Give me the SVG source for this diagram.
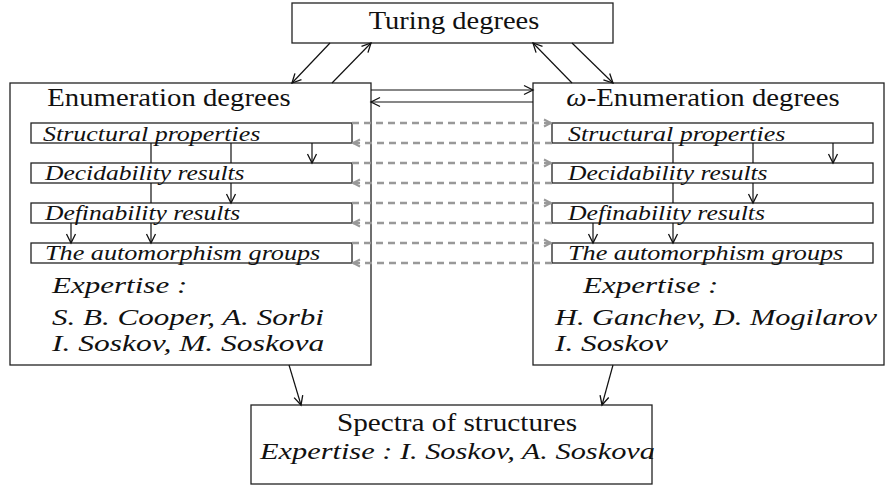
<svg xmlns="http://www.w3.org/2000/svg" width="887" height="486" viewBox="0 0 887 486">
<style>
.box{fill:#fff;stroke:#222;stroke-width:1.3}
.ibox{fill:none;stroke:#222;stroke-width:1.3}
.c{fill:none;stroke:#111;stroke-width:1.2}
.d{fill:none;stroke:#999;stroke-width:2.6;stroke-dasharray:7 5}
</style>
<defs>
<marker id="ah" markerUnits="userSpaceOnUse" markerWidth="12" markerHeight="12" viewBox="-10 -6 12 12" refX="0" refY="0" orient="auto">
<path d="M-9,-4.5 L0,0 L-9,4.5" fill="none" stroke="#111" stroke-width="1.3"/>
</marker>
<marker id="gh" markerUnits="userSpaceOnUse" markerWidth="12" markerHeight="12" viewBox="-10 -6 12 12" refX="0" refY="0" orient="auto">
<path d="M-7,-3.5 L0,0 L-7,3.5" fill="none" stroke="#999" stroke-width="2"/>
</marker>
</defs>

<g font-family="Liberation Serif, DejaVu Serif, serif" fill="#111">

<g id="turing">
<rect class="box" x="292" y="3" width="321" height="40"/>
<text transform="translate(454,29) scale(1.14,1)" font-size="25" text-anchor="middle">Turing degrees</text>
</g>

<g id="enum">
<rect class="box" x="10" y="83" width="361" height="282"/>
<text transform="translate(169,106) scale(1.15,1)" font-size="25" text-anchor="middle">Enumeration degrees</text>
<g font-size="23" font-style="italic">
<text transform="translate(52,293) scale(1.35,1)">Expertise :</text>
<text transform="translate(52,325) scale(1.35,1)">S. B. Cooper, A. Sorbi</text>
<text transform="translate(52,351) scale(1.37,1)">I. Soskov, M. Soskova</text>
</g>
</g>
<g font-size="22" font-style="italic">
<g id="enum-struct"><rect class="ibox" x="31" y="123" width="321" height="20"/><text transform="translate(43,141) scale(1.18,1)">Structural properties</text></g>
<g id="enum-decid"><rect class="ibox" x="31" y="163" width="321" height="20"/><text transform="translate(45,180) scale(1.16,1)">Decidability results</text></g>
<g id="enum-defin"><rect class="ibox" x="31" y="203" width="321" height="20"/><text transform="translate(45,220) scale(1.16,1)">Definability results</text></g>
<g id="enum-auto"><rect class="ibox" x="31" y="243" width="321" height="20"/><text transform="translate(45,260) scale(1.19,1)">The automorphism groups</text></g>
</g>

<g id="omega">
<rect class="box" x="533" y="83" width="351" height="282"/>
<text transform="translate(703,106) scale(1.15,1)" font-size="25" text-anchor="middle"><tspan font-style="italic">ω</tspan>-Enumeration degrees</text>
<g font-size="23" font-style="italic">
<text transform="translate(583,293) scale(1.35,1)">Expertise :</text>
<text transform="translate(555,325) scale(1.32,1)">H. Ganchev, D. Mogilarov</text>
<text transform="translate(555,351) scale(1.36,1)">I. Soskov</text>
</g>
</g>
<g font-size="22" font-style="italic">
<g id="omega-struct"><rect class="ibox" x="552" y="123" width="321" height="20"/><text transform="translate(568,141) scale(1.18,1)">Structural properties</text></g>
<g id="omega-decid"><rect class="ibox" x="552" y="163" width="321" height="20"/><text transform="translate(568,180) scale(1.16,1)">Decidability results</text></g>
<g id="omega-defin"><rect class="ibox" x="552" y="203" width="321" height="20"/><text transform="translate(568,220) scale(1.17,1)">Definability results</text></g>
<g id="omega-auto"><rect class="ibox" x="552" y="243" width="321" height="20"/><text transform="translate(568,260) scale(1.19,1)">The automorphism groups</text></g>
</g>

<g id="spectra">
<rect class="box" x="251" y="405" width="401" height="79"/>
<text transform="translate(457,431) scale(1.17,1)" font-size="25" text-anchor="middle">Spectra of structures</text>
<text transform="translate(260,459) scale(1.32,1)" font-size="23" font-style="italic">Expertise : I. Soskov, A. Soskova</text>
</g>

</g>

<g id="connectors">
<line class="c" x1="330" y1="43" x2="292" y2="83" marker-end="url(#ah)"/>
<line class="c" x1="332" y1="83" x2="371" y2="43" marker-end="url(#ah)"/>
<line class="c" x1="572" y1="83" x2="533" y2="43" marker-end="url(#ah)"/>
<line class="c" x1="572" y1="43" x2="613" y2="83" marker-end="url(#ah)"/>
<line class="c" x1="371" y1="90" x2="533" y2="90" marker-end="url(#ah)"/>
<line class="c" x1="533" y1="102" x2="371" y2="102" marker-end="url(#ah)"/>
<line class="c" x1="289" y1="365" x2="301" y2="405" marker-end="url(#ah)"/>
<line class="c" x1="613" y1="365" x2="602" y2="405" marker-end="url(#ah)"/>

<path class="c" d="M151,143 V163 M151,183 V203"/>
<line class="c" x1="151" y1="223" x2="151" y2="243" marker-end="url(#ah)"/>
<path class="c" d="M231,143 V163"/>
<line class="c" x1="231" y1="183" x2="231" y2="203" marker-end="url(#ah)"/>
<line class="c" x1="312" y1="143" x2="312" y2="163" marker-end="url(#ah)"/>
<line class="c" x1="71" y1="223" x2="71" y2="243" marker-end="url(#ah)"/>

<path class="c" d="M673,143 V163 M673,183 V203"/>
<line class="c" x1="673" y1="223" x2="673" y2="243" marker-end="url(#ah)"/>
<path class="c" d="M753,143 V163"/>
<line class="c" x1="753" y1="183" x2="753" y2="203" marker-end="url(#ah)"/>
<line class="c" x1="833" y1="143" x2="833" y2="163" marker-end="url(#ah)"/>
<line class="c" x1="593" y1="223" x2="593" y2="243" marker-end="url(#ah)"/>

<line class="d" x1="352" y1="123" x2="551" y2="123" marker-end="url(#gh)"/>
<line class="d" x1="552" y1="143" x2="353" y2="143" marker-end="url(#gh)"/>
<line class="d" x1="352" y1="163" x2="551" y2="163" marker-end="url(#gh)"/>
<line class="d" x1="552" y1="183" x2="353" y2="183" marker-end="url(#gh)"/>
<line class="d" x1="352" y1="203" x2="551" y2="203" marker-end="url(#gh)"/>
<line class="d" x1="552" y1="223" x2="353" y2="223" marker-end="url(#gh)"/>
<line class="d" x1="352" y1="243" x2="551" y2="243" marker-end="url(#gh)"/>
<line class="d" x1="552" y1="263" x2="353" y2="263" marker-end="url(#gh)"/>
</g>
</svg>
